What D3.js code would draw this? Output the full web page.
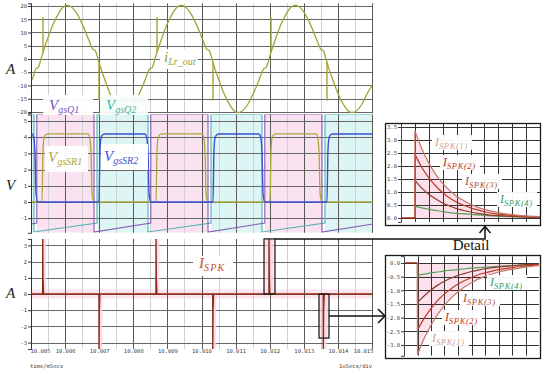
<!DOCTYPE html>
<html><head><meta charset="utf-8">
<script src="https://cdn.jsdelivr.net/npm/d3@7/dist/d3.min.js"></script>
<style>html,body{margin:0;padding:0;background:#fff;}svg{display:block;}</style>
</head><body>
<svg id="chart" width="550" height="374"></svg>
<script>
// ================= DATA =================
// time axis: microseconds after 10.005 ms
const xTickValues = [0,1,2,3,4,5,6,7,8,9,10];
const xTickLabels = ["10.005","10.006","10.007","10.008","10.009","10.010","10.011","10.012","10.013","10.014","10.015"];
const topTicks = [20,15,10,5,0,-5,-10,-15,-20];
const midTicks = [5,4,3,2,1,0,-1];
const botTicks = [3,2,1,0,-1,-2,-3];
const in1Ticks = [0,0.5,1,1.5,2,2.5,3,3.5];
const in2Ticks = [0,-0.5,-1,-1.5,-2,-2.5,-3];

// i_Lr_out (A)
const iLrTime = [0,0.059,0.147,0.205,0.249,
 0.293,0.352,0.469,0.645,0.821,0.938,1.056,1.173,1.349,1.525,1.701,1.818,1.877,1.921,1.965,2.023,2.141,2.317,2.493,2.610,2.727,2.845,3.021,3.196,3.314,3.372,3.490,3.548,3.592,
 3.636,3.695,3.812,3.988,4.164,4.281,4.399,4.516,4.692,4.868,5.044,5.161,5.220,5.264,5.308,5.366,5.484,5.660,5.836,5.953,6.070,6.188,6.364,6.539,6.657,6.715,6.833,6.891,6.935,
 6.979,7.038,7.155,7.331,7.507,7.624,7.742,7.859,8.035,8.211,8.387,8.504,8.563,8.607,8.651,8.709,8.827,9.003,9.179,9.296,9.413,9.531,9.707,9.882,10.0];
const iLrValue = [-8.5,-7,-3.6,-3.3,-2,
 0,2.5,7,13,17.5,19.5,20.2,19.7,17,12.5,7,3.6,3.3,2,0,-2.5,-7,-13,-17.5,-19.5,-20.2,-19.7,-17,-12.5,-9,-7,-3.6,-3.3,-2,
 0,2.5,7,13,17.5,19.5,20.2,19.7,17,12.5,7,3.6,3.3,2,0,-2.5,-7,-13,-17.5,-19.5,-20.2,-19.7,-17,-12.5,-9,-7,-3.6,-3.3,-2,
 0,2.5,7,13,17.5,19.5,20.2,19.7,17,12.5,7,3.6,3.3,2,0,-2.5,-7,-13,-17.5,-19.5,-20.2,-19.7,-17,-12.5,-10];
const iLrSpikeTime = [0.352,1.994,3.695,5.337,7.038,8.680];
const iLrSpikeBase = [2.5,-1.2,2.5,-1.2,2.5,-1.2];
const iLrSpikePeak = [15.8,-15.5,15.8,-15.8,15.8,-15.8];

// gate signals (V)
const q1OnStart = [-3.173,0.170,3.513,6.856,10.199];
const q1OnEnd   = [-1.495,1.848,5.191,8.534,11.877];
const q2OnStart = [-1.408,1.935,5.278,8.621];
const q2OnEnd   = [0.088,3.431,6.774,10.117];
const gateHigh = 5.4, gateLowAfterOff = -1.85, gateLowBeforeOn = -1.3;
const sr1Rise = [0.323,3.666,7.009];
const sr1Fall = [1.672,5.015,8.358];
const sr2Rise = [-1.349,1.994,5.337,8.680];
const sr2Fall = [0.029,3.343,6.686,10.029];
const srHigh = 4.2;

// I_SPK (A)
const spkTime = [0.343,1.994,3.666,5.330,6.979,8.572];
const spkPeak = [3.4,-3.4,3.4,-3.4,3.4,-3.4];
const detailT0 = [6.833,8.446];
const detailT1 = [7.155,8.739];
const detailTop = [3.4,0];
const detailBottom = [0,-2.72];

// detail insets
const insetStepTime = 1;
const insetTime = [1,1.5,2,2.5,3,3.5,4,4.5,5,5.5,6,7,8,9,10];
const in1Spk1 = [3.35,2.66,2.11,1.68,1.33,1.06,0.84,0.67,0.53,0.42,0.33,0.21,0.13,0.08,0.05];
const in1Spk2 = [2.45,1.94,1.54,1.23,0.97,0.77,0.61,0.49,0.39,0.31,0.24,0.15,0.10,0.06,0.04];
const in1Spk3 = [1.45,1.15,0.91,0.73,0.58,0.46,0.36,0.29,0.23,0.18,0.14,0.09,0.06,0.03,0.02];
const in1Spk4 = [0.45,0.39,0.33,0.29,0.25,0.21,0.18,0.16,0.14,0.12,0.10,0.07,0.05,0.04,0.03];
const in2Spk1 = [-3.35,-2.76,-2.28,-1.88,-1.55,-1.28,-1.05,-0.87,-0.72,-0.59,-0.49,-0.33,-0.23,-0.15,-0.10];
const in2Spk2 = [-2.45,-2.02,-1.67,-1.37,-1.13,-0.94,-0.77,-0.64,-0.53,-0.43,-0.36,-0.24,-0.17,-0.11,-0.07];
const in2Spk3 = [-1.45,-1.20,-0.99,-0.81,-0.67,-0.55,-0.45,-0.38,-0.31,-0.26,-0.21,-0.14,-0.10,-0.06,-0.04];
const in2Spk4 = [-0.45,-0.41,-0.36,-0.33,-0.29,-0.26,-0.24,-0.21,-0.19,-0.17,-0.15,-0.12,-0.10,-0.08,-0.06];
const insetSubs = ["SPK(1)","SPK(2)","SPK(3)","SPK(4)"];

// ================= DRAWING =================
const svg = d3.select("#chart");
const MONO = "'DejaVu Sans Mono', 'Liberation Mono', monospace";
const SERIF = "'Liberation Serif', 'DejaVu Serif', serif";
const crisp = v => Math.round(v) + 0.5;

const x = d3.scaleLinear().domain([0,10]).range([31,372]);
const yTop = d3.scaleLinear().domain([-20.5,21]).range([113.3,3.35]);
const yMid = d3.scaleLinear().domain([-1.9,5.4]).range([232.8,114.5]);
const yBot = d3.scaleLinear().domain([-3.4,3.4]).range([349.1,238.9]);

const defs = svg.append("defs");
function clip(id, x0, y0, x1, y1){
  defs.append("clipPath").attr("id",id).append("rect").attr("x",x0).attr("y",y0).attr("width",x1-x0).attr("height",y1-y0);
  return "url(#"+id+")";
}

function grid(g, y, hTicks){
  const [yb, yt] = y.range();
  x.ticks(20).forEach(t => {
    const major = Math.abs(t - Math.round(t)) < 1e-9;
    g.append("line").attr("x1",crisp(x(t))).attr("x2",crisp(x(t))).attr("y1",yt).attr("y2",yb)
      .attr("stroke", major ? "#5a5a5a" : "#d0d0d0").attr("stroke-width",1);
  });
  hTicks.forEach(v => g.append("line").attr("x1",31).attr("x2",372)
     .attr("y1",crisp(y(v))).attr("y2",crisp(y(v))).attr("stroke","#666").attr("stroke-width",1));
}

function yAxis(y, ticks, fmt, xPos){
  const g = svg.append("g").attr("transform","translate("+(xPos)+",0)")
    .call(d3.axisLeft(y).tickValues(ticks).tickSize(3).tickPadding(1).tickFormat(fmt));
  g.select(".domain").attr("stroke","#333");
  g.selectAll(".tick line").attr("stroke","#333");
  g.selectAll(".tick text").attr("font-family",MONO).attr("font-size",5.5).attr("fill","#444");
  return g;
}

function labelBox(x0,y0,w,h,fill){
  svg.append("rect").attr("x",x0).attr("y",y0).attr("width",w).attr("height",h).attr("fill",fill||"#fff").attr("opacity",0.95);
}
function subLabel(xp, yp, main, sub, color, size, subSize, spacing){
  const t = svg.append("text").attr("x",xp).attr("y",yp).attr("fill",color)
    .attr("font-family",SERIF).attr("font-style","italic");
  t.append("tspan").attr("font-size",size).text(main);
  t.append("tspan").attr("font-size",subSize).attr("dy",size*0.22).attr("letter-spacing",spacing||0).text(sub);
}

// ---------- Panel 1: i_Lr_out ----------
const p1 = svg.append("g");
grid(p1, yTop, topTicks);
const c1 = clip("c1", 31, 3, 373, 114);
const lineTop = d3.line().x(d=>x(d[0])).y(d=>yTop(d[1])).curve(d3.curveMonotoneX);
p1.append("path").attr("clip-path",c1).attr("d", lineTop(iLrTime.map((t,i)=>[t,iLrValue[i]])))
  .attr("fill","none").attr("stroke","#a3a336").attr("stroke-width",1.3);
iLrSpikeTime.forEach((t,i)=>{
  p1.append("line").attr("clip-path",c1).attr("x1",x(t)).attr("x2",x(t))
    .attr("y1",yTop(iLrSpikeBase[i])).attr("y2",yTop(iLrSpikePeak[i]))
    .attr("stroke","#a3a336").attr("stroke-width",1.4);
});
yAxis(yTop, topTicks, d=>String(d), 31);

// ---------- Panel 2: gate voltages ----------
const p2 = svg.append("g");
const c2 = clip("c2", 31, 114.5, 373, 232.8);
const fills = p2.append("g").attr("clip-path",c2);
q1OnStart.forEach((s,i)=>fills.append("rect").attr("x",x(s)).attr("y",114.5).attr("width",x(q1OnEnd[i])-x(s)).attr("height",118.3).attr("fill","#fbe2f0"));
q2OnStart.forEach((s,i)=>fills.append("rect").attr("x",x(s)).attr("y",114.5).attr("width",x(q2OnEnd[i])-x(s)).attr("height",118.3).attr("fill","#ddf5f5"));
grid(p2, yMid, midTicks);

function gatePts(starts, ends){
  const pts = [];
  starts.forEach((s,i)=>{
    if (i>0) pts.push([s, gateLowBeforeOn]);
    pts.push([s, gateHigh],[ends[i], gateHigh],[ends[i], gateLowAfterOff]);
  });
  return pts;
}
function pulsePts(rises, falls, high){
  const pts = [[rises[0]-2, 0]];
  rises.forEach((r,i)=>{
    const f = falls[i];
    pts.push([r,0],[r+0.03,high*0.78],[r+0.07,high*0.96],[r+0.16,high]);
    pts.push([f,high],[f+0.05,high*0.95],[f+0.09,high*0.7],[f+0.12,high*0.12],[f+0.17,0]);
  });
  pts.push([12,0]);
  return pts;
}
const lineMidLin = d3.line().x(d=>x(d[0])).y(d=>yMid(d[1]));
const lineMidSmooth = d3.line().x(d=>x(d[0])).y(d=>yMid(d[1])).curve(d3.curveMonotoneX);
const w2 = p2.append("g").attr("clip-path",c2);
w2.append("path").attr("d",lineMidLin(gatePts(q2OnStart,q2OnEnd))).attr("fill","none").attr("stroke","#4fb0b0").attr("stroke-width",1.1);
w2.append("path").attr("d",lineMidLin(gatePts(q1OnStart,q1OnEnd))).attr("fill","none").attr("stroke","#8a58b8").attr("stroke-width",1.1);
w2.append("path").attr("d",lineMidSmooth(pulsePts(sr1Rise,sr1Fall,srHigh))).attr("fill","none").attr("stroke","#a8a83c").attr("stroke-width",1.3);
w2.append("path").attr("d",lineMidSmooth(pulsePts(sr2Rise,sr2Fall,srHigh))).attr("fill","none").attr("stroke","#3a52d2").attr("stroke-width",1.4);
yAxis(yMid, midTicks, d=>String(d), 31);

// ---------- Panel 3: I_SPK ----------
const p3 = svg.append("g");
const c3 = clip("c3", 31, 238.9, 373, 349.1);
p3.append("rect").attr("x",31).attr("y",yBot(0)-4.5).attr("width",341).attr("height",9).attr("fill","#fce3ee");
grid(p3, yBot, botTicks);
const w3 = p3.append("g").attr("clip-path",c3);
spkTime.forEach((t,i)=>{
  const y0 = yBot(0), y1 = yBot(spkPeak[i]);
  w3.append("rect").attr("x",x(t)-0.5).attr("width",x(t+0.1)-x(t)+0.5)
    .attr("y",Math.min(y0,y1)).attr("height",Math.abs(y1-y0)).attr("fill","#fad6e6").attr("opacity",0.8);
});
detailT0.forEach((t,i)=>{
  w3.append("rect").attr("x",x(t)).attr("y",yBot(detailTop[i])).attr("width",x(detailT1[i])-x(t))
    .attr("height",yBot(detailBottom[i])-yBot(detailTop[i])).attr("fill","#fad3e4").attr("opacity",0.6);
});
const spkPts = [[-0.5,0]];
spkTime.forEach((t,i)=>{
  const p = spkPeak[i];
  spkPts.push([t,0],[t,p],[t+0.008,p*0.3],[t+0.025,0]);
});
spkPts.push([11,0]);
const lineBot = d3.line().x(d=>x(d[0])).y(d=>yBot(d[1]));
w3.append("path").attr("d",lineBot(spkPts)).attr("fill","none").attr("stroke","#8e2a12").attr("stroke-width",1.4);
yAxis(yBot, botTicks, d=>String(d), 31);

// detail rectangles + connectors
detailT0.forEach((t,i)=>{
  svg.append("rect").attr("x",x(t)).attr("y",yBot(detailTop[i])).attr("width",x(detailT1[i])-x(t))
    .attr("height",yBot(detailBottom[i])-yBot(detailTop[i])).attr("fill","none").attr("stroke","#111").attr("stroke-width",1.2);
});
svg.append("path").attr("d","M"+x(detailT1[0])+","+yBot(detailTop[0])+"H485V227").attr("fill","none").attr("stroke","#111").attr("stroke-width",1.5);
svg.append("path").attr("d","M479.5,233L485,226.5L490.5,233").attr("fill","none").attr("stroke","#111").attr("stroke-width",1.5);
const y2mid = yBot((detailTop[1]+detailBottom[1])/2);
svg.append("path").attr("d","M"+x(detailT1[1])+","+y2mid+"H385").attr("fill","none").attr("stroke","#111").attr("stroke-width",1.5);
svg.append("path").attr("d","M378,"+(y2mid-7)+"L385,"+y2mid+"L378,"+(y2mid+7)).attr("fill","none").attr("stroke","#111").attr("stroke-width",1.5);
svg.append("text").attr("x",471).attr("y",250).attr("text-anchor","middle").attr("font-family",SERIF)
  .attr("font-size",15).attr("fill","#111").text("Detail");

// x axis labels
const xg = svg.append("g").attr("transform","translate(0,347)")
  .call(d3.axisBottom(x).tickValues(xTickValues).tickSize(0).tickPadding(2).tickFormat((d,i)=>xTickLabels[i]));
xg.select(".domain").remove();
xg.selectAll(".tick text").attr("font-family",MONO).attr("font-size",5.5).attr("fill","#444");
xg.selectAll(".tick text").filter((d,i)=>i===0).attr("text-anchor","start").attr("dx",-1);
xg.selectAll(".tick text").filter((d,i)=>i===xTickValues.length-1).attr("text-anchor","end").attr("dx",1);
svg.append("text").attr("x",30).attr("y",368).attr("font-family",MONO).attr("font-size",5.5).attr("fill","#444").text("time/mSecs");
svg.append("text").attr("x",339).attr("y",368).attr("font-family",MONO).attr("font-size",5.5).attr("fill","#444").text("1uSecs/div");

// unit labels
[["A",74],["V",190],["A",298]].forEach(d=>svg.append("text").attr("x",6).attr("y",d[1])
  .attr("font-family",SERIF).attr("font-style","italic").attr("font-size",15).attr("fill","#222").text(d[0]));

// series labels
labelBox(160,49,38,20);
subLabel(164,62,"i","Lr_out","#a0a030",15,10);
labelBox(43,95,50,20);
subLabel(49,110,"V","gsQ1","#7b4fc4",15,10);
labelBox(100,95,48,20,"#f6fdfb");
subLabel(106,110,"V","gsQ2","#3fb5a5",15,10);
labelBox(45,146,43,26);
subLabel(48,162,"V","gsSR1","#a8a840",15,10);
labelBox(101,144,47,26);
subLabel(104,161,"V","gsSR2","#3a55d0",15,10);
labelBox(193,256,40,20);
subLabel(199,268,"I","SPK","#c4502c",15,10,1.2);

// ---------- Insets ----------
const insetColors = ["#c4786a","#c03a20","#8c3a28","#5aa05a"];
const insetLabelColors = ["#d2a090","#c4381c","#a85040","#3aa060"];
function drawInset(cfg){
  const {bx0,by0,bx1,by1,xs,ys,ticks,series,labels,id} = cfg;
  svg.append("rect").attr("x",bx0).attr("y",by0).attr("width",bx1-bx0).attr("height",by1-by0).attr("fill","#fff");
  const [px0,px1] = xs.range();
  const [py1,py0] = ys.range();
  const cp = clip(id, px0, py0, px1, py1);
  const g = svg.append("g").attr("clip-path",cp);
  const area = d3.area().x(d=>xs(d[0])).y0(ys(0)).y1(d=>ys(d[1])).curve(d3.curveMonotoneX);
  g.append("path").attr("d",area(insetTime.map((t,i)=>[t,series[0][i]]))).attr("fill","#fbd9e8").attr("opacity",0.8);
  d3.range(1,10).forEach(t=>g.append("line").attr("x1",crisp(xs(t))).attr("x2",crisp(xs(t))).attr("y1",py0).attr("y2",py1).attr("stroke","#333"));
  ticks.forEach(v=>g.append("line").attr("x1",px0).attr("x2",px1).attr("y1",crisp(ys(v))).attr("y2",crisp(ys(v))).attr("stroke","#333"));
  const ln = d3.line().x(d=>xs(d[0])).y(d=>ys(d[1])).curve(d3.curveMonotoneX);
  const lnLin = d3.line().x(d=>xs(d[0])).y(d=>ys(d[1]));
  series.slice().reverse().forEach((s,ri)=>{
    const k = series.length-1-ri;
    g.append("path").attr("d",lnLin([[insetStepTime,0],[insetStepTime,s[0]]])).attr("stroke",insetColors[k]).attr("stroke-width",1.2).attr("fill","none");
    g.append("path").attr("d",ln(insetTime.map((t,i)=>[t,s[i]]))).attr("stroke",insetColors[k]).attr("stroke-width",1.2).attr("fill","none");
  });
  g.append("path").attr("d",lnLin([[0,0],[insetStepTime,0]])).attr("stroke","#8e2a12").attr("stroke-width",1.5).attr("fill","none");
  const ax = yAxis(ys, ticks, d=>d.toFixed(1), px0);
  ax.select(".domain").attr("stroke","#444");
  svg.append("rect").attr("x",bx0+0.5).attr("y",by0+0.5).attr("width",bx1-bx0).attr("height",by1-by0).attr("fill","none").attr("stroke","#1a1a1a").attr("stroke-width",1.3);
  labels.forEach((l,k)=>{
    labelBox(l[0]-3,l[1]-11,40,15);
    subLabel(l[0],l[1],"I",insetSubs[k],insetLabelColors[k],12,8.5,0.6);
  });
}
drawInset({id:"i1",bx0:385,by0:123,bx1:540,by1:225,
  xs:d3.scaleLinear().domain([0,10]).range([401,540]),
  ys:d3.scaleLinear().domain([-0.15,3.65]).range([221.9,123.1]),
  ticks:in1Ticks, series:[in1Spk1,in1Spk2,in1Spk3,in1Spk4],
  labels:[[435,146],[443,166],[465,185],[500,203]]});
drawInset({id:"i2",bx0:385,by0:255,bx1:540,by1:358,
  xs:d3.scaleLinear().domain([0,10]).range([404,539]),
  ys:d3.scaleLinear().domain([-3.4,0.25]).range([355.8,256.2]),
  ticks:in2Ticks, series:[in2Spk1,in2Spk2,in2Spk3,in2Spk4],
  labels:[[432,342],[445,321],[463,302],[490,286]]});
</script>
</body></html>
